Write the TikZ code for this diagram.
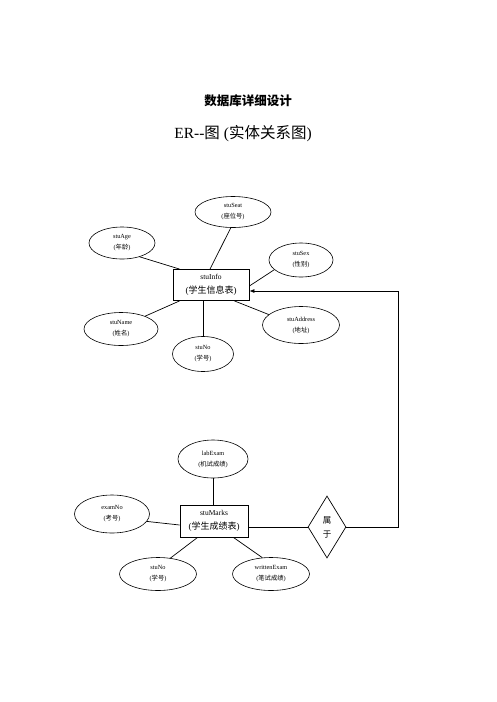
\documentclass[tikz,border=0pt]{standalone}
\usepackage{fontspec}
\setmainfont{Liberation Serif}
\newfontfamily\cjk{Noto Sans CJK SC}
\newcommand\zh[1]{{\cjk #1}}
\usetikzlibrary{shapes.geometric,arrows.meta}
\begin{document}
\begin{tikzpicture}[x=1pt,y=-1pt,
  attr/.style={ellipse,draw,line width=0.6pt,inner sep=0pt,align=center,font=\fontsize{6.3}{11}\selectfont},
  ent/.style={rectangle,draw,line width=0.8pt,inner sep=0pt,minimum width=76pt,minimum height=31pt,align=center},
  rel/.style={diamond,draw,line width=0.7pt,inner sep=0pt,align=center,font=\fontsize{8.5}{14}\selectfont},
  conn/.style={line width=0.7pt},
  ttl/.style={inner sep=0pt}]
\useasboundingbox (0,0) rectangle (496,702);
\node[ttl,font=\fontsize{12.5}{14}\selectfont] (title) at (248,101) {\cjk\bfseries 数据库详细设计};
\node[ttl,font=\fontsize{15.5}{18}\selectfont] (sub) at (243,134) {ER-{}-\zh{图}\ (\zh{实体关系图})};
% stuInfo
\node[ent] (info) at (211,285) {\fontsize{7.5}{9}\selectfont stuInfo\\[2pt]\fontsize{9}{10}\selectfont(\zh{学生信息表})};
\node[attr,minimum width=76pt,minimum height=31pt] (seat) at (233,212) {stuSeat\\(\zh{座位号})};
\node[attr,minimum width=66pt,minimum height=32pt] (age) at (122,243) {stuAge\\(\zh{年龄})};
\node[attr,minimum width=64pt,minimum height=34pt] (sex) at (301,260) {stuSex\\(\zh{性别})};
\node[attr,minimum width=74pt,minimum height=33pt] (name) at (121,329) {stuName\\(\zh{姓名})};
\node[attr,minimum width=61pt,minimum height=35pt] (no1) at (203,354) {stuNo\\(\zh{学号})};
\node[attr,minimum width=77pt,minimum height=37pt] (addr) at (301,325) {stuAddress\\(\zh{地址})};
% stuMarks
\node[ent,minimum width=68pt,minimum height=32pt] (marks) at (214,521) {\fontsize{7.5}{9}\selectfont stuMarks\\[2pt]\fontsize{9}{10}\selectfont(\zh{学生成绩表})};
\node[attr,minimum width=70pt,minimum height=38pt] (lab) at (213,459) {labExam\\(\zh{机试成绩})};
\node[attr,minimum width=75pt,minimum height=38pt] (exno) at (112,514) {examNo\\(\zh{考号})};
\node[attr,minimum width=77pt,minimum height=33pt] (no2) at (158,574) {stuNo\\(\zh{学号})};
\node[attr,minimum width=77pt,minimum height=33pt] (wr) at (271,574) {writtenExam\\(\zh{笔试成绩})};
\node[rel,minimum width=38pt,minimum height=62pt] (belong) at (327,527) {\zh{属}\\\zh{于}};
\coordinate (rc) at (398,527);
% connectors
\draw[conn] (age.-38) -- ([xshift=7pt]info.north west);
\draw[conn] (seat.-98) -- ([xshift=-1pt]info.north);
\draw[conn] (sex.200) -- ([yshift=-1pt]info.east);
\draw[conn] (name.28) -- ([xshift=7pt]info.south west);
\draw[conn] (info.south -| no1.north) -- (no1.north);
\draw[conn] ([xshift=-15pt]info.south east) -- (addr.162);
\draw[conn] (lab.south) -- (lab.south |- marks.north);
\draw[conn] (exno.-12) -- ([yshift=-4pt]marks.west);
\draw[conn] (no2.52) -- ([xshift=18pt]marks.south west);
\draw[conn] ([xshift=-15pt]marks.south east) -- (wr.118);
\draw[conn] (marks.east |- belong.west) -- (belong.west);
\draw[conn,-{Latex[length=5pt,width=4pt]}] (belong.east) -- (rc) |- ([yshift=-6pt]info.east);
\end{tikzpicture}
\end{document}
